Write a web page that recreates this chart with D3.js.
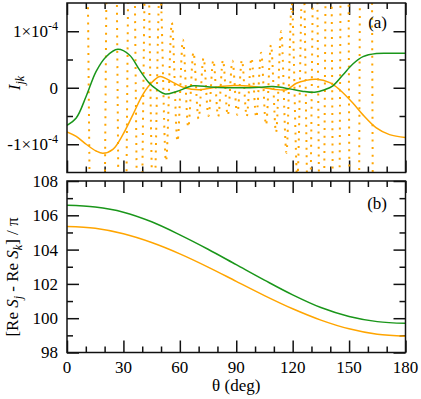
<!DOCTYPE html>
<html>
<head>
<meta charset="utf-8">
<script src="https://cdn.jsdelivr.net/npm/d3@7"></script>
<style>
  html, body { margin: 0; padding: 0; background: #fff; }
  svg text { font-family: "Liberation Serif", "Times New Roman", Tinos, Times, serif; fill: #000; }
</style>
</head>
<body>
<div id="chart"></div>
<script>
// panel (a): I_jk in units of 1e-4
const greenATheta = [0, 4.9, 10.2, 15.5, 20.8, 27, 33.2, 38.5, 43.8, 47.4, 52.2, 58.3, 67.2, 76, 85, 95, 102.5, 109.6, 118.5, 125, 131.7, 137, 141.4, 146.8, 152, 157.4, 164.5, 172, 180];
const greenAVal = [-0.665, -0.535, -0.15, 0.29, 0.55, 0.68, 0.58, 0.32, 0.08, -0.02, -0.11, -0.065, 0.035, 0.012, 0, 0, 0.01, 0.02, -0.02, -0.06, -0.08, -0.035, 0.035, 0.23, 0.42, 0.55, 0.605, 0.61, 0.61];

const orangeATheta = [0, 4.9, 10.2, 15.5, 19.1, 24.4, 29.7, 35, 40.3, 45.6, 49.5, 56.6, 62.8, 70.7, 79.6, 88.4, 99, 109.6, 116.7, 122, 127, 132.6, 139.7, 145, 152, 157.4, 164.5, 171.5, 180];
const orangeAVal = [-0.78, -0.86, -1.0, -1.12, -1.16, -1.09, -0.83, -0.48, -0.12, 0.11, 0.2, 0.09, -0.005, -0.035, 0.012, 0.04, 0.023, -0.025, -0.035, 0.08, 0.13, 0.15, 0.09, -0.035, -0.27, -0.48, -0.71, -0.83, -0.88];

// dotted orange curve: turning points of the fast oscillation (most lie outside the frame)
const dotTheta = [0, 6, 16.55, 23.85, 29.46, 34.25, 38.5, 42.38, 46.0, 49.4, 52.65, 55.75, 58.75, 61.65, 64.48, 67.24, 69.95, 72.61, 75.23, 77.82, 80.39, 82.94, 85.47, 87.99, 90.51, 93.03, 95.56, 98.1, 100.65, 103.23, 105.83, 108.47, 111.15, 113.88, 116.67, 119.52, 122.46, 125.5, 128.66, 131.97, 135.45, 139.17, 143.19, 147.64, 152.71, 158.84, 166.5, 180];
const dotVal = [14, 14, -12, 9, -7, 5.5, -4.2, 3.2, -2.4, 1.85, -1.3, 1.15, -0.95, 0.85, -0.7, 0.63, -0.55, 0.53, -0.5, 0.49, -0.51, 0.49, -0.49, 0.48, -0.48, 0.49, -0.51, 0.53, -0.53, 0.62, -0.66, 0.76, -0.79, 1.0, -1.15, 1.5, -1.6, 2.3, -3.0, 4.0, -5.2, 7, -9, 12, -16, 20, -25, -25];

// panel (b): [Re S_j - Re S_k] / pi
const thetaB = [0, 15, 30, 45, 60, 75, 90, 105, 120, 135, 150, 165, 180];
const greenB = [106.58, 106.48, 106.18, 105.62, 104.86, 104.02, 103.12, 102.22, 101.36, 100.62, 100.1, 99.8, 99.7];
const orangeB = [105.35, 105.24, 104.92, 104.41, 103.75, 102.98, 102.15, 101.32, 100.55, 99.89, 99.38, 99.06, 98.95];

const xTicks = [0, 30, 60, 90, 120, 150, 180];
const xMinor = [10, 20, 40, 50, 70, 80, 100, 110, 130, 140, 160, 170];
const aTicks = [-1, 0, 1];
const aMinor = [-0.5, 0.5];
const aLabels = ["-1\u00d710", "0", "1\u00d710"];
const bTicks = [98, 100, 102, 104, 106, 108];
const bMinor = [99, 101, 103, 105, 107];

const width = 421, height = 399;
const left = 67, right = 405.5;
const green = "#1a961a", orange = "#ffa500";
const fontSize = 17;

const svg = d3.select("#chart").append("svg")
    .attr("width", width)
    .attr("height", height);

const x = d3.scaleLinear().domain([0, 180]).range([left, right]);
const yA = d3.scaleLinear().domain([-1.5, 1.5]).range([172.5, 3]);
const yB = d3.scaleLinear().domain([98, 108]).range([352.5, 181]);

function styleTicks(g) {
    g.selectAll(".domain").remove();
    g.selectAll("line").attr("stroke", "#111").attr("stroke-width", 1.5);
}

function xFrameTicks(y) {
    const [y0, y1] = y.range();
    const g = svg.append("g").attr("font-family", null);
    g.append("g").attr("transform", `translate(0,${y0})`)
        .call(d3.axisBottom(x).tickValues(xTicks).tickSize(-12).tickFormat(""));
    g.append("g").attr("transform", `translate(0,${y0})`)
        .call(d3.axisBottom(x).tickValues(xMinor).tickSize(-6).tickFormat(""));
    g.append("g").attr("transform", `translate(0,${y1})`)
        .call(d3.axisTop(x).tickValues(xTicks).tickSize(-12).tickFormat(""));
    g.append("g").attr("transform", `translate(0,${y1})`)
        .call(d3.axisTop(x).tickValues(xMinor).tickSize(-6).tickFormat(""));
    g.selectAll("text").remove();
    styleTicks(g);
}

function yFrameTicks(y, major, minorVals, fmt) {
    const g = svg.append("g");
    const labelled = g.append("g").attr("transform", `translate(${left},0)`)
        .call(d3.axisLeft(y).tickValues(major).tickSize(-12).tickPadding(9).tickFormat(fmt));
    g.append("g").attr("transform", `translate(${left},0)`)
        .call(d3.axisLeft(y).tickValues(minorVals).tickSize(-6).tickFormat(""));
    g.append("g").attr("transform", `translate(${right},0)`)
        .call(d3.axisRight(y).tickValues(major).tickSize(-12).tickFormat(""));
    g.append("g").attr("transform", `translate(${right},0)`)
        .call(d3.axisRight(y).tickValues(minorVals).tickSize(-6).tickFormat(""));
    styleTicks(g);
    g.selectAll("g").attr("font-family", null).attr("font-size", null);
    labelled.selectAll("text").attr("font-size", fontSize).attr("fill", "#000");
    return labelled;
}

function border(y, id) {
    const [y0, y1] = y.range();
    svg.append("clipPath").attr("id", id)
        .append("rect")
        .attr("x", left).attr("y", y1)
        .attr("width", right - left).attr("height", y0 - y1);
    return () => svg.append("rect")
        .attr("x", left).attr("y", y1)
        .attr("width", right - left).attr("height", y0 - y1)
        .attr("fill", "none").attr("stroke", "#111").attr("stroke-width", 1.5);
}

// ---------- panel (a) ----------
const borderA = border(yA, "clipA");
xFrameTicks(yA);
const ga = yFrameTicks(yA, aTicks, aMinor, "");
ga.selectAll(".tick text").each(function(d, i) {
    const t = d3.select(this);
    t.text(aLabels[i]);
    if (d !== 0) {
        t.append("tspan").attr("dy", -7).attr("font-size", 12).text("-4");
    }
});

const plotA = svg.append("g").attr("clip-path", "url(#clipA)");
plotA.append("path")
    .datum(d3.zip(dotTheta, dotVal))
    .attr("d", d3.line().x(d => x(d[0])).y(d => yA(d[1])).curve(d3.curveMonotoneX))
    .attr("fill", "none")
    .attr("stroke", orange)
    .attr("stroke-width", 2)
    .attr("stroke-dasharray", "2,5.6");

const smoothA = d3.line().x(d => x(d[0])).y(d => yA(d[1])).curve(d3.curveCatmullRom.alpha(0.5));
plotA.append("path")
    .datum(d3.zip(orangeATheta, orangeAVal))
    .attr("d", smoothA)
    .attr("fill", "none")
    .attr("stroke", orange)
    .attr("stroke-width", 1.5);
plotA.append("path")
    .datum(d3.zip(greenATheta, greenAVal))
    .attr("d", smoothA)
    .attr("fill", "none")
    .attr("stroke", green)
    .attr("stroke-width", 1.5);
borderA();

svg.append("text").attr("x", 387).attr("y", 28)
    .attr("text-anchor", "end").attr("font-size", fontSize).text("(a)");

const labA = svg.append("text")
    .attr("transform", "translate(20,83) rotate(-90)")
    .attr("text-anchor", "middle").attr("font-size", fontSize);
labA.append("tspan").attr("font-style", "italic").text("I");
labA.append("tspan").attr("font-style", "italic").attr("font-size", 12).attr("dy", 4).text("jk");

// ---------- panel (b) ----------
const borderB = border(yB, "clipB");
xFrameTicks(yB);
yFrameTicks(yB, bTicks, bMinor, d3.format("d"));

const lineB = d3.line().x(d => x(d[0])).y(d => yB(d[1])).curve(d3.curveCatmullRom.alpha(0.5));
const plotB = svg.append("g").attr("clip-path", "url(#clipB)");
plotB.append("path")
    .datum(d3.zip(thetaB, orangeB))
    .attr("d", lineB)
    .attr("fill", "none").attr("stroke", orange).attr("stroke-width", 1.5);
plotB.append("path")
    .datum(d3.zip(thetaB, greenB))
    .attr("d", lineB)
    .attr("fill", "none").attr("stroke", green).attr("stroke-width", 1.5);
borderB();

// x tick labels under panel (b)
svg.append("g").selectAll("text")
    .data(xTicks)
    .join("text")
    .attr("x", d => x(d))
    .attr("y", 373)
    .attr("text-anchor", "middle")
    .attr("font-size", fontSize)
    .text(d => d);

svg.append("text").attr("x", 387).attr("y", 209)
    .attr("text-anchor", "end").attr("font-size", fontSize).text("(b)");

svg.append("text").attr("x", x(90)).attr("y", 391)
    .attr("text-anchor", "middle").attr("font-size", fontSize)
    .text("\u03b8 (deg)");

const labB = svg.append("text")
    .attr("transform", "translate(18,277) rotate(-90)")
    .attr("text-anchor", "middle").attr("font-size", fontSize);
labB.append("tspan").text("[Re ");
labB.append("tspan").attr("font-style", "italic").text("S");
labB.append("tspan").attr("font-style", "italic").attr("font-size", 12).attr("dy", 4).text("j");
labB.append("tspan").attr("dy", -4).text(" - Re ");
labB.append("tspan").attr("font-style", "italic").text("S");
labB.append("tspan").attr("font-style", "italic").attr("font-size", 12).attr("dy", 4).text("k");
labB.append("tspan").attr("dy", -4).text("] / \u03c0");
</script>
</body>
</html>
